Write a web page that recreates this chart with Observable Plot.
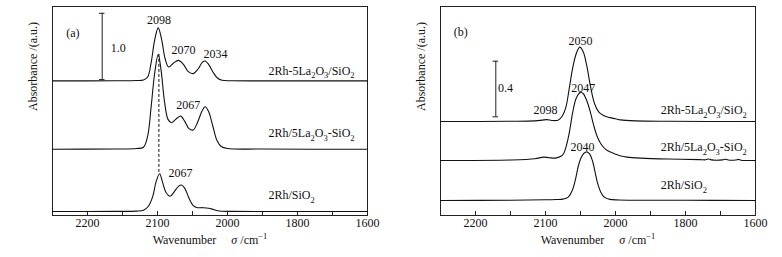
<!DOCTYPE html>
<html><head><meta charset="utf-8">
<script src="https://cdn.jsdelivr.net/npm/d3@7"></script>
<script src="https://cdn.jsdelivr.net/npm/@observablehq/plot@0.6"></script>
<style>
body{margin:0;background:#fff;}
#wrap{display:flex;width:782px;height:257px;overflow:hidden;}
</style></head><body><div id="wrap"></div><script>
// ---- shared axis data
const xBreaks = [2250, 2000, 1600];
const majorTicks = [2200, 2100, 2000, 1800, 1600];
const minorTicks = [2150, 2050, 1900, 1700];
const seriesNames = ["2Rh-5La₂O₃/SiO₂", "2Rh/5La₂O₃-SiO₂", "2Rh/SiO₂"];
const xTitle = "Wavenumber σ /cm⁻¹";
const yTitle = "Absorbance /(a.u.)";

// ---- panel (a) spectra
const aWaveTop = [2250,2160,2130,2120,2114,2109,2104,2099,2094,2089,2084,2077,2070,2063,2056,2049,2042,2036,2032,2027,2020,2014,2008,1990,1900,1600];
const aAbsTop  = [0,0.002,0.006,0.015,0.06,0.28,0.62,0.80,0.62,0.33,0.21,0.27,0.31,0.25,0.14,0.11,0.18,0.28,0.30,0.25,0.12,0.04,0.01,0.003,0.001,0];
const aWaveMid = [2250,2160,2130,2120,2114,2109,2104,2099,2095,2090,2085,2080,2073,2067,2061,2055,2049,2043,2037,2032,2027,2021,2015,2009,2000,1900,1600];
const aAbsMid  = [0,0.003,0.01,0.03,0.2,0.65,1.15,1.43,1.2,0.72,0.45,0.40,0.46,0.50,0.42,0.31,0.29,0.40,0.56,0.64,0.57,0.35,0.13,0.04,0.01,0.002,0];
const aWaveBot = [2250,2160,2130,2120,2113,2107,2102,2097,2093,2088,2082,2076,2070,2066,2061,2055,2049,2044,2035,2027,2020,2014,2008,1990,1600];
const aAbsBot  = [0,0.002,0.006,0.02,0.08,0.22,0.45,0.57,0.45,0.29,0.23,0.30,0.38,0.40,0.35,0.20,0.09,0.06,0.058,0.05,0.03,0.012,0.004,0.002,0];
const aOffsets = [2.03, 1.0, 0.06];
const aLabelY  = [2.18, 1.237, 0.30];
const aLabelWave = 1883;
const aPeakText = ["2098", "2070", "2034", "2067", "2067"];
const aPeakWave = [2098, 2063, 2017, 2056, 2067];
const aPeakY    = [2.94, 2.50, 2.43, 1.66, 0.633];
const aDashWave = 2098;
const aDashY    = [2.43, 0.63];
const aBar = {wave: 2179, y1: 2.05, y2: 3.05, text: "1.0", textWave: 2156, textY: 2.53};
const aTag = {text: "(a)", wave: 2221, y: 2.745};

// ---- panel (b) spectra
const bWaveTop = [2250,2150,2115,2105,2098,2091,2082,2076,2071,2066,2061,2056,2051,2046,2041,2036,2030,2024,2017,2008,2000,1986,1943,1850,1600];
const bAbsTop  = [0,0.002,0.005,0.01,0.014,0.008,0.01,0.04,0.10,0.24,0.39,0.49,0.535,0.50,0.40,0.26,0.13,0.07,0.043,0.028,0.02,0.012,0.005,0.002,0];
const bWaveMid = [2250,2150,2115,2103,2095,2086,2078,2074,2070,2066,2061,2056,2050,2046,2041,2036,2031,2026,2021,2014,2007,2000,1985,1967,1929,1850,1760,1742,1734,1726,1694,1686,1678,1657,1649,1641,1600];
const bAbsMid  = [0,0.003,0.012,0.024,0.02,0.017,0.03,0.05,0.11,0.2,0.35,0.45,0.49,0.48,0.43,0.35,0.25,0.17,0.12,0.08,0.06,0.045,0.032,0.024,0.017,0.01,0.006,0.005,0.011,0.004,0.004,0.009,0.003,0.003,0.008,0.002,0];
const bWaveBot = [2250,2150,2100,2085,2075,2068,2062,2057,2053,2049,2045,2041,2037,2033,2029,2026,2021,2016,2008,1990,1800,1600];
const bAbsBot  = [0,0.002,0.005,0.007,0.01,0.022,0.07,0.156,0.25,0.31,0.34,0.35,0.335,0.288,0.2,0.132,0.06,0.024,0.008,0.004,0.002,0];
const bOffsets = [0.676, 0.396, 0.108];
const bLabelY  = [0.755, 0.491, 0.216];
const bLabelWave = 1871;
const bPeakText = ["2050", "2098", "2047", "2040"];
const bPeakWave = [2050, 2100, 2046, 2047];
const bPeakY    = [1.252, 0.755, 0.914, 0.489];
const bBar = {wave: 2171, y1: 0.71, y2: 1.11, text: "0.4", textWave: 2157, textY: 0.914};
const bTag = {text: "(b)", wave: 2221, y: 1.317};

function rows(waves, abs, offsets) {
  const out = [];
  waves.forEach((ws, i) => ws.forEach((w, j) => out.push({series: seriesNames[i], w, a: abs[i][j] + offsets[i]})));
  return out;
}

function richify(svg) {
  const ns = "http://www.w3.org/2000/svg";
  svg.querySelectorAll("text").forEach(t => {
    const s = t.textContent;
    if (!/[₂₃⁻¹σ]/.test(s)) return;
    while (t.firstChild) t.removeChild(t.firstChild);
    let state = 0; // 0 normal, 1 sub, -1 sup
    const add = (txt, mode, extra) => {
      const sp = document.createElementNS(ns, "tspan");
      let dy = 0;
      if (mode === 1 && state !== 1) dy += 3.5 - (state === -1 ? -4.5 : 0);
      else if (mode === -1 && state !== -1) dy += -4.5 - (state === 1 ? 3.5 : 0);
      else if (mode === 0 && state !== 0) dy += state === 1 ? -3.5 : 4.5;
      if (dy) sp.setAttribute("dy", dy);
      if (mode !== 0) sp.setAttribute("font-size", "8.5px");
      if (extra) for (const k in extra) sp.setAttribute(k, extra[k]);
      sp.textContent = txt;
      t.appendChild(sp);
      state = mode;
    };
    for (const ch of s) {
      if (ch === "₂") add("2", 1);
      else if (ch === "₃") add("3", 1);
      else if (ch === "⁻") add("−", -1);
      else if (ch === "¹") add("1", -1);
      else if (ch === "σ") add("σ", 0, {"font-style": "italic", dx: 12});
      else add(ch, 0);
    }
  });
}

function panel({width, marginLeft, marginRight, range, yMax, waves, abs, offsets, labelY, labelWave,
                peakText, peakWave, peakY, bar, tag, dash}) {
  const data = rows(waves, abs, offsets);
  const labels = seriesNames.map((s, i) => ({s, w: labelWave, y: labelY[i]}));
  const peaks = peakText.map((t, i) => ({t, w: peakWave[i], y: peakY[i]}));
  const marks = [
    Plot.frame({stroke: "#222", strokeWidth: 1}),
    Plot.axisX({ticks: majorTicks.concat(minorTicks), tickSize: -4, tickPadding: 7,
      tickFormat: d => majorTicks.includes(d) ? String(d) : "", label: null, stroke: "#222"}),
    Plot.line(data, {x: "w", y: "a", z: "series", curve: "catmull-rom", stroke: "#111", strokeWidth: 1.1}),
    Plot.text(labels, {x: "w", y: "y", text: "s", textAnchor: "start", fill: "#111"}),
    Plot.text(peaks, {x: "w", y: "y", text: "t", fill: "#111"}),
    Plot.ruleX([bar.wave], {y1: bar.y1, y2: bar.y2, stroke: "#222"}),
    Plot.ruleY([bar.y1, bar.y2], {x1: bar.wave + 4, x2: bar.wave - 4, stroke: "#222"}),
    Plot.text([bar.text], {x: bar.textWave, y: bar.textY, fill: "#111"}),
    Plot.text([tag.text], {x: tag.wave, y: tag.y, fill: "#111"}),
    Plot.text([xTitle], {frameAnchor: "bottom", dy: 28, fill: "#111"}),
    Plot.text([yTitle], {frameAnchor: "left", rotate: -90, dx: -19, fill: "#111"})
  ];
  if (dash) marks.push(Plot.ruleX([dash.wave], {y1: dash.y[0], y2: dash.y[1], stroke: "#111", strokeDasharray: "3,2"}));
  const svg = Plot.plot({
    width, height: 257, marginTop: 6, marginBottom: 42, marginLeft, marginRight,
    x: {type: "linear", domain: xBreaks, range},
    y: {domain: [0, yMax], axis: null},
    style: {fontFamily: "'Liberation Serif', 'Times New Roman', serif", fontSize: "12px", background: "#fff", color: "#111"},
    marks
  });
  richify(svg);
  return svg;
}

const wrap = document.getElementById("wrap");
wrap.appendChild(panel({width: 391, marginLeft: 52, marginRight: 24, range: [52, 227, 367], yMax: 209 / 66.3,
  waves: [aWaveTop, aWaveMid, aWaveBot], abs: [aAbsTop, aAbsMid, aAbsBot], offsets: aOffsets,
  labelY: aLabelY, labelWave: aLabelWave, peakText: aPeakText, peakWave: aPeakWave, peakY: aPeakY,
  bar: aBar, tag: aTag, dash: {wave: aDashWave, y: aDashY}}));
wrap.appendChild(panel({width: 391, marginLeft: 49, marginRight: 27, range: [49, 224, 364], yMax: 209 / 139,
  waves: [bWaveTop, bWaveMid, bWaveBot], abs: [bAbsTop, bAbsMid, bAbsBot], offsets: bOffsets,
  labelY: bLabelY, labelWave: bLabelWave, peakText: bPeakText, peakWave: bPeakWave, peakY: bPeakY,
  bar: bBar, tag: bTag, dash: null}));
</script></body></html>
